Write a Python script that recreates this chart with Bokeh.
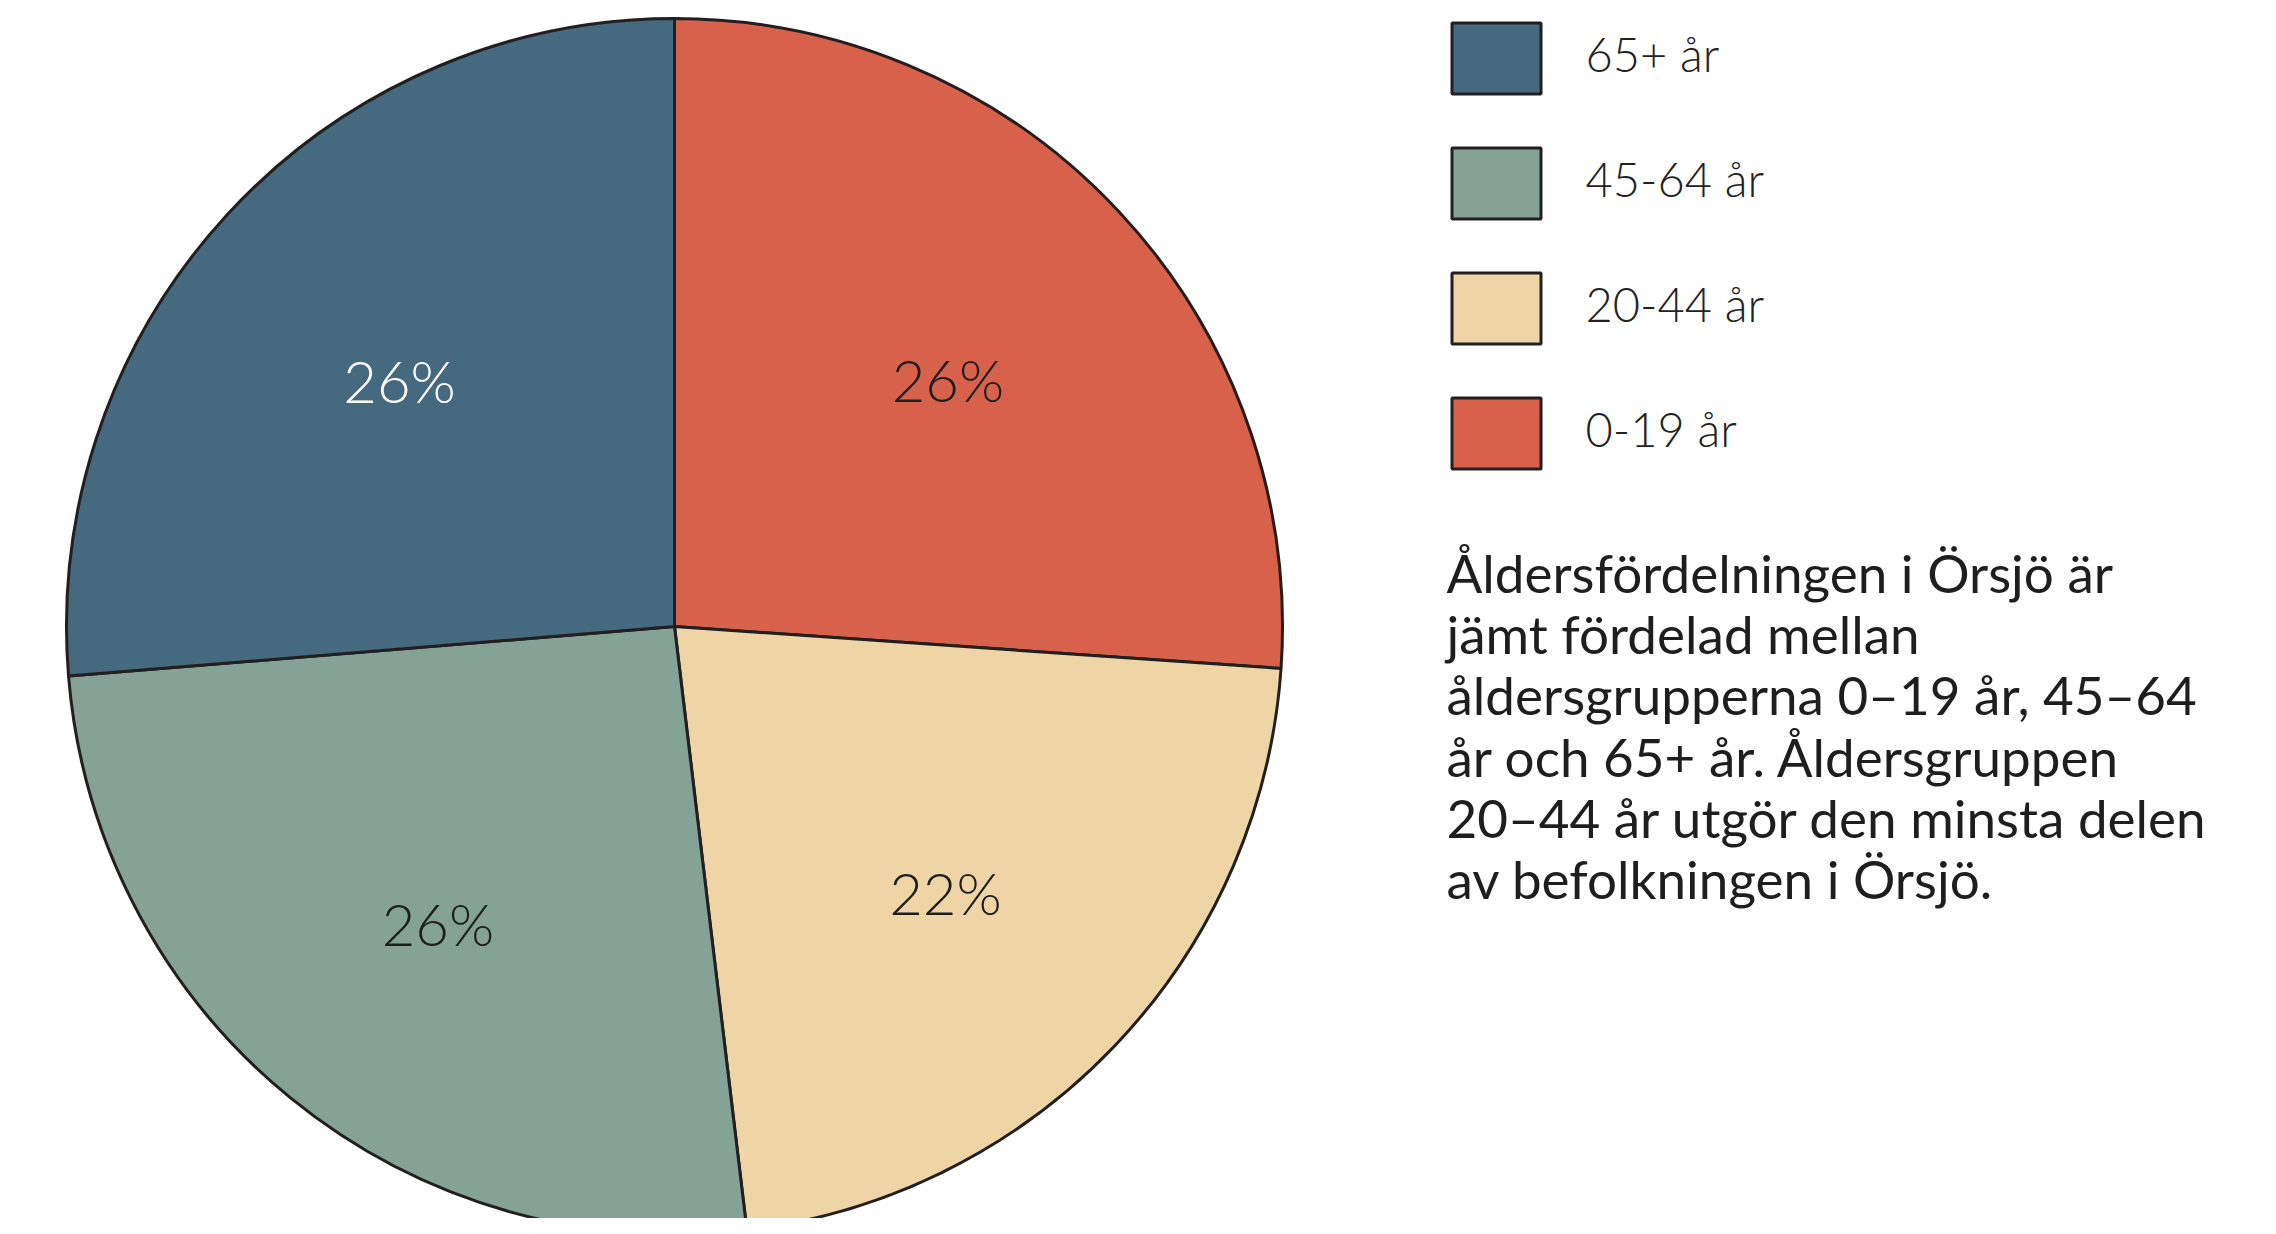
import math
from bokeh.plotting import figure
from bokeh.models import Range1d, ColumnDataSource
from bokeh.core.properties import value
from bokeh.embed import file_html
from bokeh.resources import INLINE

# ---- data ----
categories = ["0-19 år", "20-44 år", "45-64 år", "65+ år"]
shares = [26.1, 22.0, 25.6, 26.3]
colors = ["#D7614A", "#EFD5A5", "#84A296", "#45697E"]
label_colors = ["#1E1E1E", "#1E1E1E", "#1E1E1E", "#FFFFFF"]
legend_order = ["65+ år", "45-64 år", "20-44 år", "0-19 år"]
description = [
    "Åldersfördelningen i Örsjö är",
    "jämt fördelad mellan",
    "åldersgrupperna 0–19 år, 45–64",
    "år och 65+ år. Åldersgruppen",
    "20–44 år utgör den minsta delen",
    "av befolkningen i Örsjö.",
]

W, H = 2260, 1218
REF_H = 1234
LIGHT = "'Lato Light', Lato"
REG = "Lato"
OUTLINE = "#231F20"
TXT_SHIFT = 13  # text baseline correction (px, upward)

p = figure(width=W, height=H, output_backend="svg", toolbar_location=None,
           x_range=Range1d(0, W), y_range=Range1d(REF_H - H, REF_H),
           min_border=0, match_aspect=False)
p.axis.visible = False
p.grid.visible = False
p.outline_line_color = None
p.background_fill_color = "white"
p.border_fill_color = "white"

def Y(sy):
    return REF_H - sy

# ---- pie ----
cx, cy, r = 674, Y(626), 608
lab_size = 58
total = sum(shares)
starts, ends, lx, ly, labels = [], [], [], [], []
cum = 0.0
for s in shares:
    a0 = math.pi / 2 - cum / total * 2 * math.pi
    cum += s
    a1 = math.pi / 2 - cum / total * 2 * math.pi
    starts.append(a0)
    ends.append(a1)
    mid = (a0 + a1) / 2
    lx.append(cx + 0.615 * r * math.cos(mid))
    ly.append(cy + 0.615 * r * math.sin(mid) - 0.36 * lab_size + TXT_SHIFT)
    labels.append(f"{round(s / total * 100)}%")

src = ColumnDataSource(dict(start=starts, end=ends, color=colors,
                            lx=lx, ly=ly, label=labels, lc=label_colors))
p.wedge(x=cx, y=cy, radius=r, start_angle="start", end_angle="end",
        direction="clock", fill_color="color", line_color=OUTLINE,
        line_width=3, source=src)
p.text(x="lx", y="ly", text="label", text_color="lc", source=src,
       text_font=value(LIGHT), text_font_size=f"{lab_size}px",
       text_align="center", text_baseline="alphabetic")

# ---- legend ----
cmap = dict(zip(categories, colors))
bx, bw, bh = 1496, 89, 71
by0, bstep = 58, 125
leg_y = [Y(by0 + i * bstep) for i in range(len(legend_order))]
p.rect(x=[bx] * len(legend_order), y=leg_y, width=bw, height=bh,
       fill_color=[cmap[c] for c in legend_order], line_color=OUTLINE,
       line_width=3)
p.text(x=[1585] * len(legend_order), y=[v - 13 + TXT_SHIFT + 5 for v in leg_y],
       text=legend_order, text_color="#222222",
       text_font=value(LIGHT), text_font_size="47px",
       text_align="left", text_baseline="alphabetic")

# ---- description ----
base0, lstep = 592, 61.2
p.text(x=[1446] * len(description),
       y=[Y(base0 + i * lstep) + TXT_SHIFT + 7 for i in range(len(description))],
       text=description, text_color="#1E1E1E",
       text_font=value(REG), text_font_size="53px",
       text_align="left", text_baseline="alphabetic")

open("out.html", "w").write(file_html(p, INLINE))
